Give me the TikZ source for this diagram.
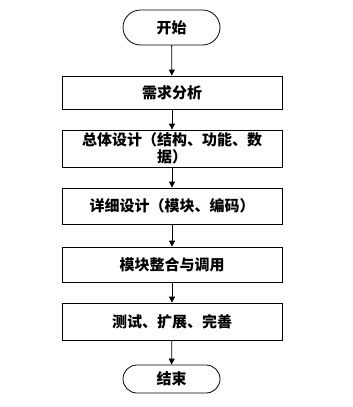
\documentclass[tikz,border=0pt]{standalone}
\usepackage{fontspec}
\newfontfamily\cjk{Noto Sans CJK SC}
\usetikzlibrary{arrows.meta}
\tikzset{
  box/.style={draw=black, line width=0.8pt, minimum width=220pt, inner sep=0pt, align=center, font=\cjk\bfseries\fontsize{15pt}{17pt}\selectfont},
  term/.style={draw=black, line width=0.8pt, minimum width=97pt, inner sep=0pt, align=center, font=\cjk\bfseries\fontsize{15pt}{17pt}\selectfont},
  arr/.style={draw=black, line width=0.8pt, -{Triangle[width=6pt,length=6pt]}}
}
\begin{document}
\begin{tikzpicture}[x=1pt,y=-1pt]
\useasboundingbox (0,0) rectangle (353,407);
\node[term, minimum height=35pt, rounded corners=17.5pt] (start) at (171.5,27.5) {开始};
\node[box, minimum height=33pt] (b1) at (172,92.5) {需求分析};
\node[box, minimum height=37pt] (b2) at (172,148.5) {总体设计（结构、功能、数\\据）};
\node[box, minimum height=36pt] (b3) at (172,206) {详细设计（模块、编码）};
\node[box, minimum height=35pt] (b4) at (172,264.5) {模块整合与调用};
\node[box, minimum height=37pt] (b5) at (172,321.5) {测试、扩展、完善};
\node[term, minimum height=28pt, rounded corners=14pt] (end) at (171.5,379) {结束};
\draw[arr] (start) -- (b1);
\draw[arr] (b1) -- (b2);
\draw[arr] (b2) -- (b3);
\draw[arr] (b3) -- (b4);
\draw[arr] (b4) -- (b5);
\draw[arr] (b5) -- (end);
\end{tikzpicture}
\end{document}
